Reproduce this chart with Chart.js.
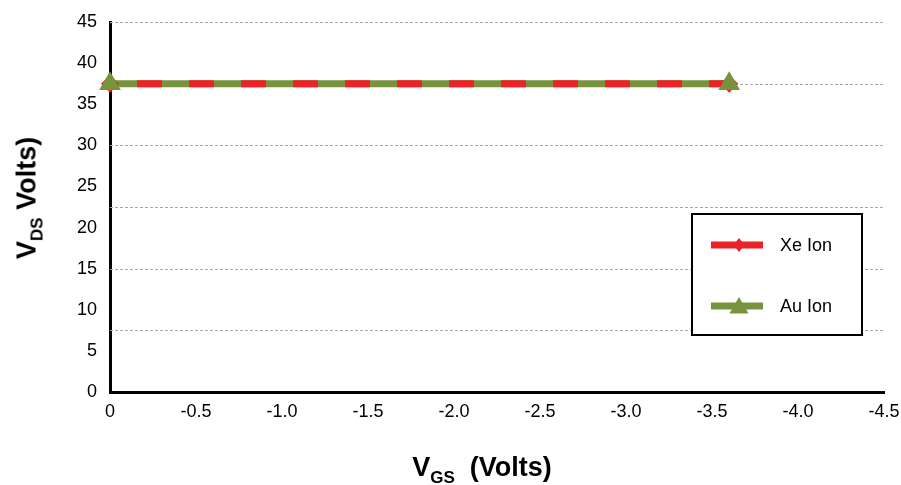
<!DOCTYPE html>
<html>
<head>
<meta charset="utf-8">
<script src="https://cdn.jsdelivr.net/npm/chart.js@4.4.1/dist/chart.umd.min.js"></script>
<style>
  html, body { margin: 0; padding: 0; background: #fff; }
  #wrap { position: relative; width: 901px; height: 485px; font-family: "Liberation Sans", Arial, Helvetica, sans-serif; }
  #c { position: absolute; left: 0; top: 0; }
  .ttl { position: absolute; font-weight: bold; font-size: 27px; color: #000; white-space: pre; line-height: 1; }
  .ttl sub { font-size: 17px; vertical-align: -7px; line-height: 0; }
  #ytitle { left: 27px; top: 198px; transform: translate(-50%, -50%) rotate(-90deg); }
  #xtitle { left: 482px; top: 467px; transform: translate(-50%, -50%); }
</style>
</head>
<body>
<div id="wrap">
  <canvas id="c" width="901" height="485"></canvas>
  <div id="ytitle" class="ttl">V<sub>DS</sub> Volts)</div>
  <div id="xtitle" class="ttl">V<sub>GS</sub>  (Volts)</div>
</div>
<script>
// ---- data ----
const seriesNames = ["Xe Ion", "Au Ion"];
const xeVgs = [0, -3.6];
const xeVds = [37.5, 37.5];
const auVgs = [0, -3.6];
const auVds = [37.5, 37.5];
const yTicks = [0, 5, 10, 15, 20, 25, 30, 35, 40, 45];
const xTicks = [0, -0.5, -1.0, -1.5, -2.0, -2.5, -3.0, -3.5, -4.0, -4.5];
const gridValues = [7.5, 15, 22.5, 30, 37.5, 45];

const RED = "#EC2227";
const GREEN = "#77933C";
const FONT = '"Liberation Sans", Arial, Helvetica, sans-serif';

const toPts = (xs, ys) => xs.map((x, i) => ({ x: x, y: ys[i] }));

const gridPlugin = {
  id: "dashGrid",
  beforeDatasetsDraw(chart) {
    const { ctx, chartArea, scales } = chart;
    ctx.save();
    ctx.strokeStyle = "#a8a8a8";
    ctx.lineWidth = 1;
    ctx.setLineDash([3, 2]);
    gridValues.forEach(v => {
      const y = Math.round(scales.y.getPixelForValue(v)) + 0.5;
      ctx.beginPath();
      ctx.moveTo(chartArea.left, y);
      ctx.lineTo(chartArea.right, y);
      ctx.stroke();
    });
    ctx.restore();
  }
};

function drawTri(ctx, x, y, r, color) {
  ctx.beginPath();
  ctx.moveTo(x, y - r);
  ctx.lineTo(x + r * Math.sin(2 * Math.PI / 3), y - r * Math.cos(2 * Math.PI / 3));
  ctx.lineTo(x + r * Math.sin(4 * Math.PI / 3), y - r * Math.cos(4 * Math.PI / 3));
  ctx.closePath();
  ctx.fillStyle = color;
  ctx.fill();
}
function drawDiamond(ctx, x, y, rx, ry, color) {
  ctx.beginPath();
  ctx.moveTo(x, y - ry);
  ctx.lineTo(x + rx, y);
  ctx.lineTo(x, y + ry);
  ctx.lineTo(x - rx, y);
  ctx.closePath();
  ctx.fillStyle = color;
  ctx.fill();
}

const legendPlugin = {
  id: "boxLegend",
  afterDraw(chart) {
    const ctx = chart.ctx;
    const bx = 692, by = 214, bw = 170, bh = 121;
    ctx.save();
    ctx.fillStyle = "#fff";
    ctx.fillRect(bx, by, bw, bh);
    ctx.strokeStyle = "#000";
    ctx.lineWidth = 2;
    ctx.strokeRect(bx, by, bw, bh);
    const rows = [
      { y: 245, color: RED, marker: "diamond", label: seriesNames[0] },
      { y: 306, color: GREEN, marker: "tri", label: seriesNames[1] }
    ];
    rows.forEach(r => {
      ctx.strokeStyle = r.color;
      ctx.lineWidth = 7;
      ctx.setLineDash([]);
      ctx.beginPath();
      ctx.moveTo(711, r.y);
      ctx.lineTo(763, r.y);
      ctx.stroke();
      if (r.marker === "diamond") drawDiamond(ctx, 739, r.y, 5.5, 7, r.color);
      else drawTri(ctx, 739, r.y + 2, 11, r.color);
      ctx.fillStyle = "#000";
      ctx.font = "18px " + FONT;
      ctx.textBaseline = "middle";
      ctx.textAlign = "left";
      ctx.fillText(r.label, 780, r.y + 1);
    });
    ctx.restore();
  }
};

new Chart(document.getElementById("c"), {
  type: "scatter",
  data: {
    datasets: [
      {
        label: seriesNames[0],
        data: toPts(xeVgs, xeVds),
        showLine: true,
        clip: false,
        borderColor: RED,
        backgroundColor: RED,
        borderWidth: 7,
        borderDash: [25, 27],
        borderDashOffset: 25,
        pointStyle: "rectRot",
        pointRadius: 9,
        pointBorderWidth: 0,
        pointBackgroundColor: RED,
        order: 1
      },
      {
        label: seriesNames[1],
        data: toPts(auVgs, auVds),
        showLine: true,
        clip: false,
        borderColor: GREEN,
        backgroundColor: GREEN,
        borderWidth: 7,
        pointRadius: 0,
        order: 2
      },
      {
        label: seriesNames[1] + " markers",
        data: toPts(auVgs, auVds),
        showLine: false,
        clip: false,
        pointStyle: "triangle",
        pointRadius: 12.5,
        pointBorderWidth: 0,
        pointBackgroundColor: GREEN,
        order: 0
      }
    ]
  },
  options: {
    responsive: false,
    animation: false,
    layout: { padding: { left: 0, right: 17, top: 22, bottom: 0 } },
    plugins: {
      legend: { display: false },
      tooltip: { enabled: false }
    },
    scales: {
      x: {
        type: "linear",
        reverse: true,
        min: -4.5,
        max: 0,
        afterBuildTicks: s => { s.ticks = xTicks.map(v => ({ value: v })); },
        afterFit: s => { s.height = 93; s.paddingLeft = 0; s.paddingRight = 0; },
        grid: { display: false, drawTicks: false },
        border: { display: true, color: "#000", width: 3 },
        ticks: {
          color: "#000",
          padding: 9,
          maxRotation: 0,
          autoSkip: false,
          font: { family: FONT, size: 18 },
          callback: v => (v === 0 ? "0" : Number(v).toFixed(1))
        }
      },
      y: {
        type: "linear",
        min: 0,
        max: 45,
        afterBuildTicks: s => { s.ticks = yTicks.map(v => ({ value: v })); },
        afterFit: s => { s.width = 110; s.paddingTop = 0; s.paddingBottom = 0; },
        grid: { display: false, drawTicks: false },
        border: { display: true, color: "#000", width: 3 },
        ticks: {
          color: "#000",
          padding: 13,
          autoSkip: false,
          font: { family: FONT, size: 18 },
          callback: v => String(v)
        }
      }
    }
  },
  plugins: [gridPlugin, legendPlugin]
});
</script>
</body>
</html>
